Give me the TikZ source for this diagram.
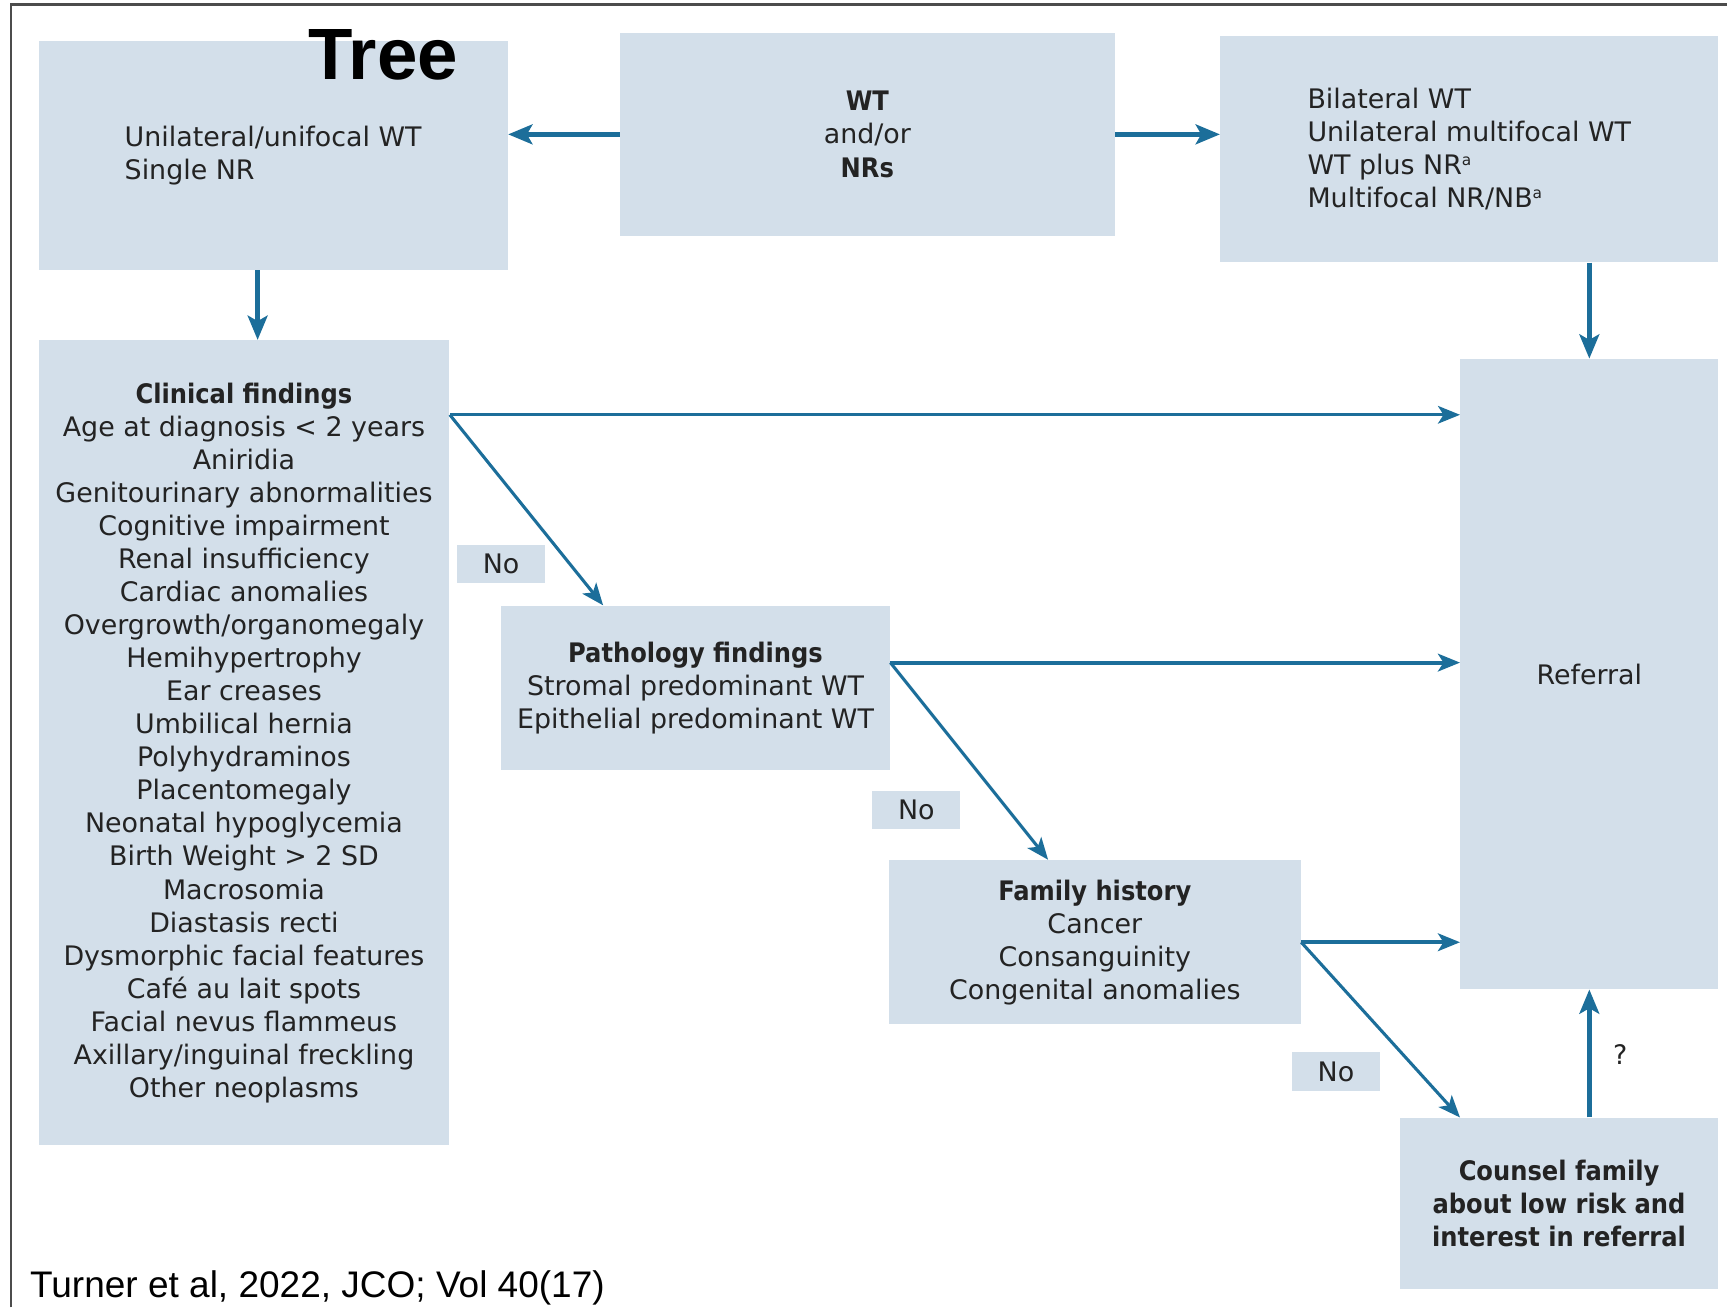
\documentclass[tikz,border=0pt]{standalone}
\usepackage{fontspec}
\setmainfont{DejaVu Sans}[BoldFont={DejaVu Sans Condensed Bold}]
\newfontfamily\arialfont{Liberation Sans}
\usetikzlibrary{
  calc, % For coordinate calculations
  arrows.meta % For arrow tips
}
\definecolor{boxfill}{HTML}{D3DFEA}
\definecolor{flowblue}{HTML}{1C6E9A}
\definecolor{textgray}{HTML}{232323}

\begin{document}
\begin{tikzpicture}[
      x=0.5pt, y=-0.5pt, % Pixelraster
      box/.style={fill=boxfill, text=textgray, inner sep=0pt, align=center,
        font=\fontsize{12.2}{15}\selectfont}, % Style for boxes
      flow/.style={flowblue, line width=1.4pt,
        -{Stealth[length=10pt, width=8pt, inset=2.5pt]}}, % Style for arrows
      bigflow/.style={flow, line width=2pt,
        -{Stealth[length=11pt, width=9pt, inset=2.5pt]}},
      nobox/.style={box, minimum width=40pt, minimum height=17.5pt},
    ]
    \useasboundingbox (0,0) rectangle (1568,1187);

    % Rahmen
    \draw[gray!60!black, line width=1pt] (10,1187) -- (10,4) -- (1568,4);

    % Kästen
    \node[box, minimum width=213pt, minimum height=104pt, align=left] (uni) at (248,141)
      {Unilateral/unifocal WT\\Single NR};
    \node[box, minimum width=224.5pt, minimum height=92pt] (wt) at (787.5,122)
      {\textbf{WT}\\and/or\\\textbf{NRs}};
    \node[box, minimum width=226pt, minimum height=102.5pt, align=left] (bil) at (1334,135.5)
      {Bilateral WT\\Unilateral multifocal WT\\WT plus NR\textsuperscript{\scriptsize a}\\Multifocal NR/NB\textsuperscript{\scriptsize a}};
    \node[box, minimum width=186.5pt, minimum height=365.5pt] (clin) at (221.5,674.5)
      {\textbf{Clinical findings}\\Age at diagnosis < 2 years\\Aniridia\\Genitourinary abnormalities\\
       Cognitive impairment\\Renal insufficiency\\Cardiac anomalies\\Overgrowth/organomegaly\\
       Hemihypertrophy\\Ear creases\\Umbilical hernia\\Polyhydraminos\\Placentomegaly\\
       Neonatal hypoglycemia\\Birth Weight > 2 SD\\Macrosomia\\Diastasis recti\\
       Dysmorphic facial features\\Café au lait spots\\Facial nevus flammeus\\
       Axillary/inguinal freckling\\Other neoplasms};
    \node[box, minimum width=176.5pt, minimum height=74.5pt] (path) at (631.5,624.5)
      {\textbf{Pathology findings}\\Stromal predominant WT\\Epithelial predominant WT};
    \node[box, minimum width=187pt, minimum height=74.5pt] (fam) at (994,855.5)
      {\textbf{Family history}\\Cancer\\Consanguinity\\Congenital anomalies};
    \node[box, minimum width=117pt, minimum height=286pt] (ref) at (1443,612) {Referral};
    \node[box, minimum width=144.5pt, minimum height=77.5pt,
      font=\fontsize{12.2}{15}\selectfont\bfseries] (couns) at (1415.5,1092.5)
      {Counsel family\\about low risk and\\interest in referral};

    % Nein-Etiketten
    \node[nobox] (no1) at (455,512) {No};
    \node[nobox] (no2) at (832,735.5) {No};
    \node[nobox] (no3) at (1213,973) {No};
    \node[text=textgray, font=\fontsize{12.2}{15}\selectfont] (q) at (1471,957) {?};

    % Titel und Quelle
    \node[font=\arialfont\bfseries\fontsize{33}{33}\selectfont, anchor=base, inner sep=0pt] (title) at (348,72) {Tree};
    \node[font=\arialfont\fontsize{16.8}{16.8}\selectfont, anchor=base west, inner sep=0pt] (src) at (27,1178)
      {Turner et al, 2022, JCO; Vol 40(17)};

    % Pfeile oben
    \draw[bigflow] (wt.west) -- (wt.west -| uni.east);
    \draw[bigflow] (wt.east) -- (wt.east -| bil.west);
    \draw[bigflow] ($(uni.south west)!0.467!(uni.south east)$) coordinate (u1) -- (u1 |- clin.north);
    \draw[bigflow] (ref.north |- bil.south) -- (ref.north);

    % Pfeile zur Referral
    \draw[flow] ($(clin.north east)+(0,68)$) coordinate (c1) -- (c1 -| ref.west);
    \draw[flow] (c1) -- ($(path.north west)+(93,0)$);
    \draw[flow, line width=1.8pt] ($(path.north east)+(0,52)$) coordinate (p1) -- (p1 -| ref.west);
    \draw[flow] (p1) -- ($(fam.north west)+(145,0)$);
    \draw[flow, line width=1.8pt] (fam.east) -- (fam.east -| ref.west);
    \draw[flow] (fam.east) -- ($(couns.north west)+(55,0)$);
    \draw[bigflow] (couns.north -| ref.south) -- (ref.south);
  \end{tikzpicture}
\end{document}
